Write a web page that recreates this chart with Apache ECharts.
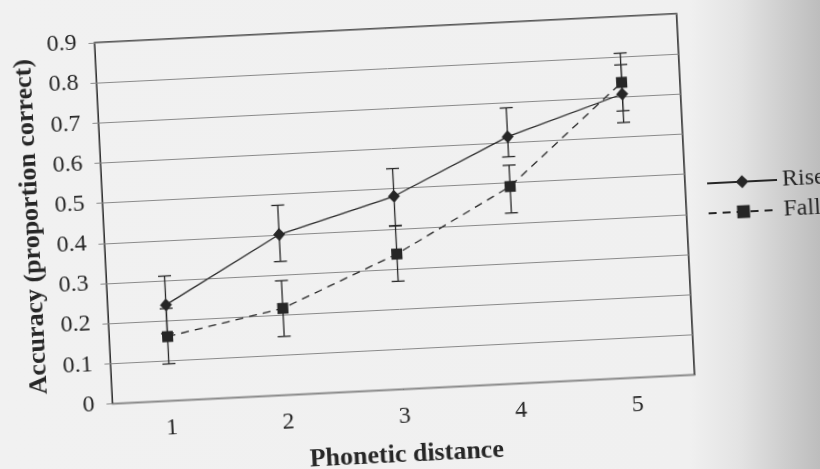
<!DOCTYPE html>
<html>
<head>
<meta charset="utf-8">
<script src="https://cdn.jsdelivr.net/npm/echarts@6/dist/echarts.min.js"></script>
<style>
  html, body { margin: 0; padding: 0; width: 820px; height: 469px; overflow: hidden; }
  body {
    background: linear-gradient(to right, #f1f1f1 0px, #f0f0f0 690px, #e3e3e3 740px, #cbcbcb 790px, #bdbdbd 820px);
  }
  #container {
    position: absolute; left: -50px; top: -50px; width: 920px; height: 569px;
    transform-origin: 444.5px 258.75px;
    transform: rotate(-2.85deg);
  }
</style>
</head>
<body>
<div id="container"></div>
<script>
// phonetic distance categories
var categories = ['1', '2', '3', '4', '5'];

// Rise: mean accuracy and error bar ends
var rise = [0.239, 0.400, 0.481, 0.615, 0.707];
var riseLow = [0.168, 0.333, 0.408, 0.565, 0.636];
var riseHigh = [0.311, 0.473, 0.550, 0.687, 0.780];

// Fall: mean accuracy and error bar ends
var fall = [0.160, 0.216, 0.337, 0.491, 0.736];
var fallLow = [0.092, 0.146, 0.269, 0.425, 0.665];
var fallHigh = [0.230, 0.285, 0.407, 0.544, 0.809];

var yTicks = ['0', '0.1', '0.2', '0.3', '0.4', '0.5', '0.6', '0.7', '0.8', '0.9'];

var ink = '#262626';
var serif = 'Liberation Serif';

function errData(low, high) {
    var out = [];
    for (var i = 0; i < low.length; i++) {
        out.push([i, low[i], high[i]]);
    }
    return out;
}

function renderErr(params, api) {
    var x = api.value(0);
    var lo = api.coord([x, api.value(1)]);
    var hi = api.coord([x, api.value(2)]);
    var w = 6.5;
    var st = {stroke: ink, lineWidth: 1.3};
    return {
        type: 'group',
        children: [
            {type: 'line', shape: {x1: lo[0], y1: lo[1], x2: hi[0], y2: hi[1]}, style: st},
            {type: 'line', shape: {x1: lo[0] - w, y1: lo[1], x2: lo[0] + w, y2: lo[1]}, style: st},
            {type: 'line', shape: {x1: hi[0] - w, y1: hi[1], x2: hi[0] + w, y2: hi[1]}, style: st}
        ]
    };
}

var myChart = echarts.init(document.getElementById('container'));
var option = {
    animation: false,
    backgroundColor: 'transparent',
    textStyle: {fontFamily: serif, color: ink},
    grid: {
        left: 153.2,
        top: 78,
        width: 582.7,
        height: 361.4,
        show: true,
        borderColor: ink,
        borderWidth: 1.5,
        backgroundColor: 'transparent'
    },
    legend: {
        orient: 'vertical',
        left: 752,
        top: 232,
        itemWidth: 70,
        itemHeight: 16,
        itemGap: 6,
        data: ['Rise', 'Fall'],
        textStyle: {fontFamily: serif, fontSize: 24, color: ink, lineHeight: 24}
    },
    xAxis: {
        type: 'category',
        data: categories,
        boundaryGap: true,
        name: 'Phonetic distance',
        nameLocation: 'middle',
        nameGap: 53,
        nameTextStyle: {fontFamily: serif, fontSize: 26, fontWeight: 'bold', color: ink},
        axisLine: {show: false},
        axisTick: {show: false},
        axisLabel: {margin: 15, fontFamily: serif, fontSize: 24, color: ink},
        splitLine: {show: false}
    },
    yAxis: {
        type: 'value',
        min: 0,
        max: 0.9,
        interval: 0.1,
        name: 'Accuracy (proportion correct)',
        nameLocation: 'middle',
        nameGap: 53,
        nameTextStyle: {fontFamily: serif, fontSize: 26, fontWeight: 'bold', color: ink},
        axisLine: {show: false},
        axisTick: {show: true, length: 6, lineStyle: {color: '#8a8a8a', width: 1}},
        axisLabel: {
            margin: 18, fontFamily: serif, fontSize: 24, color: ink,
            formatter: function (v) { return yTicks[Math.round(v * 10)]; }
        },
        splitLine: {show: true, lineStyle: {color: '#8a8a8a', width: 1}}
    },
    series: [
        {
            name: 'Rise',
            type: 'line',
            data: rise,
            symbol: 'diamond',
            symbolSize: [12, 13],
            z: 3,
            itemStyle: {color: ink},
            lineStyle: {color: ink, width: 1.3, type: 'solid'}
        },
        {
            name: 'Fall',
            type: 'line',
            data: fall,
            symbol: 'rect',
            symbolSize: 11,
            z: 3,
            itemStyle: {color: ink},
            lineStyle: {color: ink, width: 1.3, type: [8, 6]}
        },
        {
            name: 'Rise error',
            type: 'custom',
            renderItem: renderErr,
            data: errData(riseLow, riseHigh),
            encode: {x: 0, y: [1, 2]},
            z: 2,
            silent: true
        },
        {
            name: 'Fall error',
            type: 'custom',
            renderItem: renderErr,
            data: errData(fallLow, fallHigh),
            encode: {x: 0, y: [1, 2]},
            z: 2,
            silent: true
        }
    ]
};

myChart.setOption(option);
</script>
</body>
</html>
